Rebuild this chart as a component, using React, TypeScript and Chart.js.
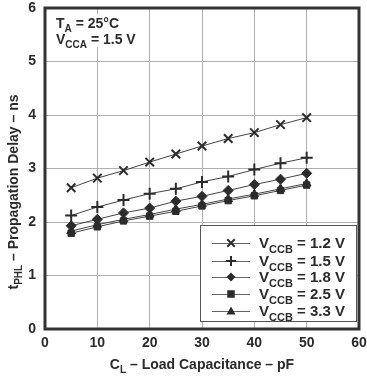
import React, { useEffect, useRef } from 'react';
import { Chart, registerables } from 'chart.js';
Chart.register(...registerables);

const capacitance = [5, 10, 15, 20, 25, 30, 35, 40, 45, 50];
const vccb12 = [2.64, 2.82, 2.96, 3.12, 3.27, 3.42, 3.56, 3.67, 3.82, 3.95];
const vccb15 = [2.12, 2.28, 2.41, 2.53, 2.62, 2.75, 2.85, 2.98, 3.1, 3.2];
const vccb18 = [1.93, 2.05, 2.17, 2.26, 2.39, 2.48, 2.59, 2.7, 2.8, 2.91];
const vccb25 = [1.79, 1.91, 2.02, 2.11, 2.2, 2.3, 2.4, 2.49, 2.59, 2.69];
const vccb33 = [1.83, 1.95, 2.05, 2.14, 2.24, 2.33, 2.43, 2.52, 2.62, 2.72];
const seriesLabels = ['1.2 V', '1.5 V', '1.8 V', '2.5 V', '3.3 V'];
const seriesMarkers = ['crossRot', 'cross', 'rectRot', 'rect', 'triangle'];
const xMin = 0, xMax = 60, xStep = 10;
const yMin = 0, yMax = 6, yStep = 1;

const FONT = '"Liberation Sans", Arial, sans-serif';
const INK = '#2b2b2b';

type Part = { t: string; sub?: boolean };

function measureRich(ctx: CanvasRenderingContext2D, parts: Part[], size: number) {
  let w = 0;
  for (const p of parts) {
    ctx.font = `bold ${p.sub ? Math.round(size * 0.72) : size}px ${FONT}`;
    w += ctx.measureText(p.t).width;
  }
  return w;
}

function drawRich(ctx: CanvasRenderingContext2D, parts: Part[], x: number, y: number, size: number) {
  ctx.textBaseline = 'alphabetic';
  ctx.textAlign = 'left';
  let cx = x;
  for (const p of parts) {
    ctx.font = `bold ${p.sub ? Math.round(size * 0.72) : size}px ${FONT}`;
    ctx.fillText(p.t, cx, p.sub ? y + size * 0.3 : y);
    cx += ctx.measureText(p.t).width;
  }
}

function drawMarker(ctx: CanvasRenderingContext2D, style: string, x: number, y: number, r: number) {
  ctx.save();
  ctx.fillStyle = INK;
  ctx.strokeStyle = INK;
  ctx.lineWidth = 2;
  ctx.beginPath();
  if (style === 'crossRot') {
    const d = r * 0.75;
    ctx.moveTo(x - d, y - d); ctx.lineTo(x + d, y + d);
    ctx.moveTo(x + d, y - d); ctx.lineTo(x - d, y + d);
    ctx.stroke();
  } else if (style === 'cross') {
    ctx.moveTo(x - r, y); ctx.lineTo(x + r, y);
    ctx.moveTo(x, y - r); ctx.lineTo(x, y + r);
    ctx.stroke();
  } else if (style === 'rectRot') {
    const d = r * 0.9;
    ctx.moveTo(x, y - d); ctx.lineTo(x + d, y); ctx.lineTo(x, y + d); ctx.lineTo(x - d, y); ctx.closePath();
    ctx.fill();
  } else if (style === 'rect') {
    const d = r * 0.75;
    ctx.rect(x - d, y - d, 2 * d, 2 * d);
    ctx.fill();
  } else {
    const d = r * 0.9;
    ctx.moveTo(x, y - d); ctx.lineTo(x + d, y + d * 0.75); ctx.lineTo(x - d, y + d * 0.75); ctx.closePath();
    ctx.fill();
  }
  ctx.restore();
}

const decorPlugin = {
  id: 'decor',
  afterDraw(chart: any) {
    const ctx: CanvasRenderingContext2D = chart.ctx;
    const a = chart.chartArea;
    ctx.save();
    // frame
    ctx.strokeStyle = '#333';
    ctx.lineWidth = 3;
    ctx.strokeRect(a.left, a.top, a.right - a.left, a.bottom - a.top);

    ctx.fillStyle = INK;
    // x title
    const xt: Part[] = [{ t: 'C' }, { t: 'L', sub: true }, { t: ' \u2013 Load Capacitance \u2013 pF' }];
    const xw = measureRich(ctx, xt, 14);
    drawRich(ctx, xt, (a.left + a.right) / 2 - xw / 2, 369, 14);

    // y title
    const yt: Part[] = [{ t: 't' }, { t: 'PHL', sub: true }, { t: ' \u2013 Propagation Delay \u2013 ns' }];
    const yw = measureRich(ctx, yt, 14);
    ctx.save();
    ctx.translate(18, 192);
    ctx.rotate(-Math.PI / 2);
    drawRich(ctx, yt, -yw / 2, 0, 14);
    ctx.restore();

    // conditions box
    ctx.fillStyle = '#fff';
    ctx.fillRect(a.left + 3, 14, 96, 33);
    ctx.fillStyle = INK;
    drawRich(ctx, [{ t: 'T' }, { t: 'A', sub: true }, { t: ' = 25\u00b0C' }], 56, 28, 14);
    drawRich(ctx, [{ t: 'V' }, { t: 'CCA', sub: true }, { t: ' = 1.5 V' }], 56, 44, 14);

    // legend
    const lx = 200, ly = 225, lw = 156, lh = 96;
    ctx.fillStyle = '#fff';
    ctx.fillRect(lx, ly, lw, lh);
    ctx.strokeStyle = '#555';
    ctx.lineWidth = 1;
    ctx.strokeRect(lx + 0.5, ly + 0.5, lw, lh);
    const rows = [243, 261, 277, 294, 311];
    seriesLabels.forEach((lab, i) => {
      const y = rows[i];
      ctx.strokeStyle = '#666';
      ctx.lineWidth = 1;
      ctx.beginPath();
      ctx.moveTo(212, y + 0.5);
      ctx.lineTo(250, y + 0.5);
      ctx.stroke();
      drawMarker(ctx, seriesMarkers[i], 231, y, 5);
      ctx.fillStyle = INK;
      drawRich(ctx, [{ t: 'V' }, { t: 'CCB', sub: true }, { t: ' = ' + lab }], 259, y + 5, 15);
    });
    ctx.restore();
  },
};

export default function App() {
  const ref = useRef<HTMLCanvasElement>(null);
  useEffect(() => {
    document.body.style.margin = '0';
    const all = [vccb12, vccb15, vccb18, vccb25, vccb33];
    const radii = [6, 6, 5, 4.5, 5];
    const chart = new Chart(ref.current!, {
      type: 'line',
      data: {
        datasets: all.map((vals, i) => ({
          label: seriesLabels[i],
          data: capacitance.map((c, j) => ({ x: c, y: vals[j] })),
          borderColor: '#444',
          borderWidth: 1,
          pointStyle: seriesMarkers[i] as any,
          pointRadius: radii[i],
          pointBorderWidth: i < 2 ? 2 : 1,
          pointBackgroundColor: INK,
          pointBorderColor: INK,
          tension: 0,
        })),
      },
      options: {
        animation: false,
        responsive: false,
        devicePixelRatio: 1,
        layout: { padding: { left: 0, right: 6, top: 5, bottom: 0 } },
        plugins: { legend: { display: false }, tooltip: { enabled: false } },
        scales: {
          x: {
            type: 'linear',
            min: xMin,
            max: xMax,
            border: { display: false },
            grid: { color: '#b0b0b0', lineWidth: 1, drawTicks: false },
            ticks: { stepSize: xStep, padding: 6, color: INK, font: { family: FONT, size: 14, weight: 'bold' } },
            afterFit: (s: any) => { s.height = 48; s.paddingLeft = 0; s.paddingRight = 0; },
          },
          y: {
            min: yMin,
            max: yMax,
            border: { display: false },
            grid: { color: '#b0b0b0', lineWidth: 1, drawTicks: false },
            ticks: { stepSize: yStep, padding: 9, color: INK, font: { family: FONT, size: 14, weight: 'bold' } },
            afterFit: (s: any) => { s.width = 45; s.paddingTop = 0; s.paddingBottom = 0; },
          },
        },
      },
      plugins: [decorPlugin],
    });
    return () => chart.destroy();
  }, []);
  return (
    <div style={{ width: 367, height: 377 }}>
      <canvas ref={ref} width={367} height={377} style={{ display: 'block' }} />
    </div>
  );
}
